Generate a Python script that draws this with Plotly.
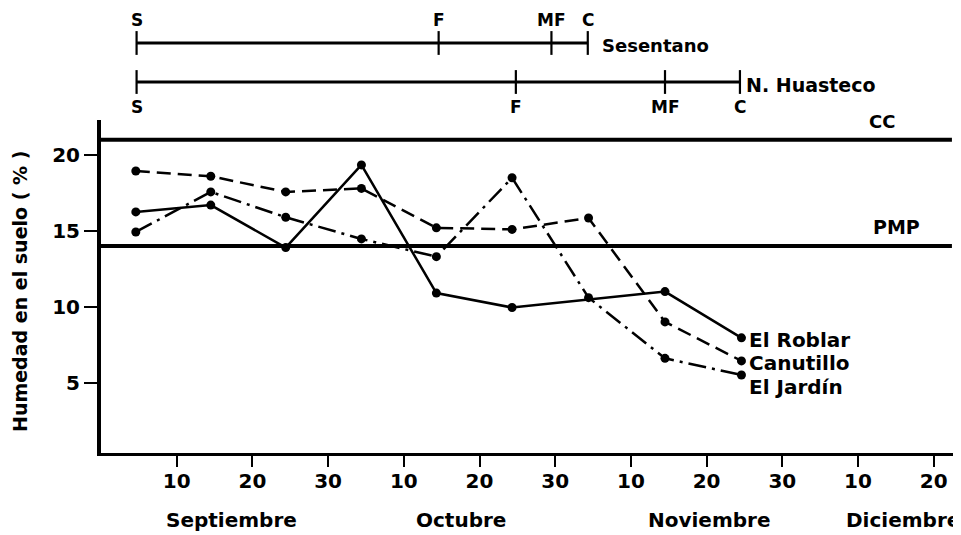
import plotly.graph_objects as go

# ---- data ----
fechas = [4.6, 14.5, 24.4, 34.4, 44.3, 54.3, 64.4, 74.5, 84.6]  # days from Sept 1
el_roblar = [16.25, 16.7, 13.9, 19.35, 10.9, 9.95, None, 11.0, 7.95]
canutillo = [18.95, 18.6, 17.57, 17.8, 15.2, 15.1, 15.85, 9.0, 6.43]
el_jardin = [14.93, 17.57, 15.9, 14.47, 13.3, 18.5, 10.6, 6.6, 5.5]

cc_valor = 21.0
pmp_valor = 14.0
linea_x = [0, 112.4]

etapas = ["S", "F", "MF", "C"]
sesentano_fechas = [4.7, 44.6, 59.5, 64.3]
huasteco_fechas = [4.7, 54.8, 74.5, 84.4]

tick_vals = [10, 20, 30, 40, 50, 60, 70, 80, 90, 100, 110]
tick_text = ["10", "20", "30", "10", "20", "30", "10", "20", "30", "10", "20"]
meses = ["Septiembre", "Octubre", "Noviembre", "Diciembre"]
meses_x = [17.3, 47.6, 80.4, 106.0]

FONT = "DejaVu Sans"
black = "black"


def f(size):
    return dict(family=FONT, size=size, color=black, weight="bold")


fig = go.Figure()

# reference lines
fig.add_trace(go.Scatter(x=linea_x, y=[cc_valor, cc_valor], mode="lines",
                         line=dict(color=black, width=4), showlegend=False, hoverinfo="skip"))
fig.add_trace(go.Scatter(x=linea_x, y=[pmp_valor, pmp_valor], mode="lines",
                         line=dict(color=black, width=4), showlegend=False, hoverinfo="skip"))

# series
fig.add_trace(go.Scatter(x=fechas, y=el_roblar, mode="lines+markers", connectgaps=True,
                         line=dict(color=black, width=2.5),
                         marker=dict(color=black, size=9), name="El Roblar", showlegend=False))
fig.add_trace(go.Scatter(x=fechas, y=canutillo, mode="lines+markers",
                         line=dict(color=black, width=2.5, dash="14px,7px"),
                         marker=dict(color=black, size=9), name="Canutillo", showlegend=False))
fig.add_trace(go.Scatter(x=fechas, y=el_jardin, mode="lines+markers",
                         line=dict(color=black, width=2.5, dash="18px,6px,3px,6px"),
                         marker=dict(color=black, size=9), name="El Jardín", showlegend=False))

# phenology bars (on top axis)
for fechas_f, nivel in [(sesentano_fechas, 2), (huasteco_fechas, 1)]:
    fig.add_trace(go.Scatter(x=[fechas_f[0], fechas_f[-1]], y=[nivel, nivel], mode="lines",
                             line=dict(color=black, width=3), yaxis="y2",
                             showlegend=False, hoverinfo="skip", cliponaxis=False))
    fig.add_trace(go.Scatter(x=fechas_f, y=[nivel] * len(fechas_f), mode="markers",
                             marker=dict(symbol="line-ns", size=17, line=dict(width=2.2, color=black)),
                             yaxis="y2", showlegend=False, hoverinfo="skip", cliponaxis=False))

annotations = []
for et, xv in zip(etapas, sesentano_fechas):
    annotations.append(dict(x=xv, y=2, xref="x", yref="y2", text=et, showarrow=False,
                            yshift=23, font=f(17)))
for et, xv in zip(etapas, huasteco_fechas):
    annotations.append(dict(x=xv, y=1, xref="x", yref="y2", text=et, showarrow=False,
                            yshift=-25, font=f(17)))
annotations.append(dict(x=sesentano_fechas[-1], y=2, xref="x", yref="y2", text="Sesentano",
                        showarrow=False, xanchor="left", xshift=12, yshift=-3, font=f(18)))
annotations.append(dict(x=huasteco_fechas[-1], y=1, xref="x", yref="y2", text="N. Huasteco",
                        showarrow=False, xanchor="left", xshift=4, yshift=-3, font=f(19)))

# CC / PMP labels
annotations.append(dict(x=103.1, y=cc_valor, xref="x", yref="y", text="CC", showarrow=False,
                        yshift=18, font=f(18)))
annotations.append(dict(x=105.1, y=pmp_valor, xref="x", yref="y", text="PMP", showarrow=False,
                        yshift=19, font=f(19)))

# series labels
for nombre, serie, ys in [("El Roblar", el_roblar, -2), ("Canutillo", canutillo, -2),
                          ("El Jardín", el_jardin, -12)]:
    annotations.append(dict(x=fechas[-1], y=serie[-1], xref="x", yref="y", text=nombre,
                            showarrow=False, xanchor="left", xshift=6, yshift=ys, font=f(20)))

# month labels
for m, xv in zip(meses, meses_x):
    annotations.append(dict(x=xv, y=1 - 512 / 445, xref="x", yref="paper",
                            xanchor="center", yanchor="middle",
                            text=m, showarrow=False, font=f(20)))

# y title
annotations.append(dict(x=(12 - 93) / 860, y=1 - 284 / 445, xref="paper", yref="paper",
                        xanchor="center", yanchor="middle",
                        text="Humedad en el suelo ( % )", textangle=-90, showarrow=False,
                        font=f(19)))

dom_top = 333 / 445
fig.update_layout(
    width=953, height=527,
    margin=dict(l=93, r=0, t=0, b=82),
    paper_bgcolor="white", plot_bgcolor="white",
    showlegend=False,
    annotations=annotations,
    xaxis=dict(range=[0, 113.6], showline=True, linewidth=3, linecolor=black,
               ticks="outside", ticklen=11, tickwidth=2, tickcolor=black,
               tickvals=tick_vals, ticktext=tick_text, showgrid=False, zeroline=False,
               ticklabelstandoff=-3, tickfont=f(20)),
    yaxis=dict(domain=[0, dom_top], range=[0.36, 22.31], showline=True, linewidth=4,
               linecolor=black, ticks="outside", ticklen=13, tickwidth=2, tickcolor=black,
               tickvals=[5, 10, 15, 20], showgrid=False, zeroline=False,
               tickfont=f(20)),
    yaxis2=dict(domain=[dom_top, 1], range=[0.026, 2.897], visible=False, anchor="x"),
)

fig.write_html("out.html")
